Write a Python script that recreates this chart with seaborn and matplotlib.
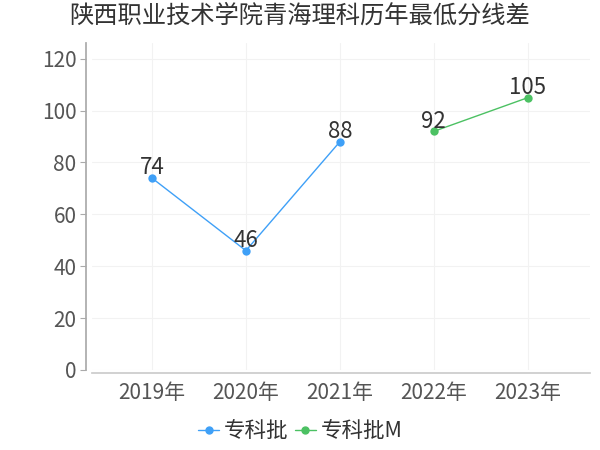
import numpy as np
import pandas as pd
import matplotlib
matplotlib.use('Agg')
import matplotlib.pyplot as plt
import seaborn as sns

# Данные
years = ['2019年', '2020年', '2021年', '2022年', '2023年']
series_a_name = '专科批'
series_a_years = ['2019年', '2020年', '2021年']
series_a_values = [74, 46, 88]
series_b_name = '专科批M'
series_b_years = ['2022年', '2023年']
series_b_values = [92, 105]

BLUE = '#3fa0f7'
GREEN = '#4cc163'

sns.set_theme(style='white')
plt.rcParams['font.family'] = ['Noto Sans CJK SC', 'DejaVu Sans']

df = pd.concat([
    pd.DataFrame({'year': series_a_years, 'value': series_a_values, 'series': series_a_name}),
    pd.DataFrame({'year': series_b_years, 'value': series_b_values, 'series': series_b_name}),
], ignore_index=True)
df['x'] = df['year'].map({y: i for i, y in enumerate(years)})

fig = plt.figure(figsize=(6, 4.5), dpi=100)
ax = fig.add_axes([0.153, 0.178, 0.83, 0.726])

sns.lineplot(data=df, x='x', y='value', hue='series',
             palette={series_a_name: BLUE, series_b_name: GREEN},
             marker='o', markersize=6, markeredgewidth=0, linewidth=1,
             ax=ax, legend=False)

# Подписи значений
for _, row in df.iterrows():
    ax.text(row['x'], row['value'] - 0.5, f"{row['value']}", ha='center', va='bottom',
            fontsize=16, color='#333333')

ax.set_xlim(-0.64, 4.66)
ax.set_ylim(0, 126)
ax.set_xticks(range(len(years)))
ax.set_xticklabels(years)
ax.set_yticks(range(0, 121, 20))
ax.set_xlabel('')
ax.set_ylabel('')
ax.tick_params(axis='x', labelsize=15, colors='#555555', length=0, pad=7)
ax.tick_params(axis='y', labelsize=15, colors='#555555', length=4, width=0.8,
               left=True, color='#aaaaaa', pad=3)
ax.grid(True, color='#f2f2f2', linewidth=0.8)
for s in ['top', 'right']:
    ax.spines[s].set_visible(False)
ax.spines['left'].set_color('#aaaaaa')
ax.spines['left'].set_position(('outward', 4))
ax.spines['bottom'].set_color('#cccccc')
ax.spines['bottom'].set_position(('outward', 2))

fig.suptitle('陕西职业技术学院青海理科历年最低分线差', x=0.5, y=0.993, fontsize=17.5, color='#333333')

handles = [
    plt.Line2D([], [], color=BLUE, marker='o', markersize=5, linewidth=1),
    plt.Line2D([], [], color=GREEN, marker='o', markersize=5, linewidth=1),
]
fig.legend(handles, [series_a_name, series_b_name], loc='center', bbox_to_anchor=(0.5, 0.042),
           ncol=2, frameon=False, fontsize=15.5, handlelength=1.0, handletextpad=0.2,
           columnspacing=0.3, labelcolor='#333333')

plt.savefig('out.png', dpi=100)
